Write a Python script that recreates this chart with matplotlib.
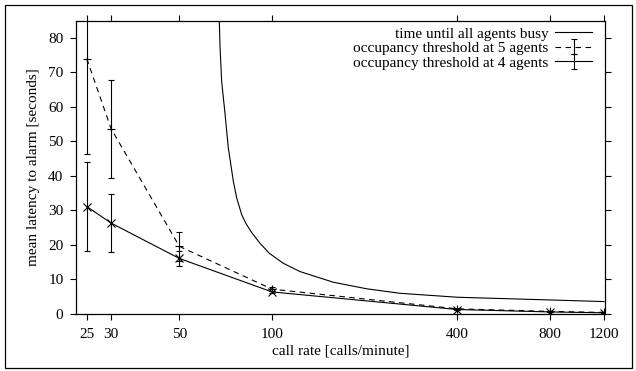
import matplotlib
matplotlib.use("Agg")
import matplotlib.pyplot as plt
from matplotlib.patches import Rectangle
import numpy as np

plt.rcParams['font.family'] = ['Liberation Serif', 'DejaVu Serif']
plt.rcParams['font.size'] = 11

# x tick values / categories
x_ticks = [25, 30, 50, 100, 400, 800, 1200]

# "time until all agents busy" curve
busy_x = [67.4, 67.8, 68.6, 70.4, 72.1, 74.9, 76.8, 79.7, 82.3, 85.9, 91.4, 98.0,
          108.8, 123.3, 158.2, 203.3, 260.7, 401.6, 801, 1200]
busy_y = [85.0, 77.2, 67.5, 57.8, 48.2, 38.4, 33.6, 28.8, 26.2, 23.6, 20.5, 17.6,
          14.7, 12.3, 9.2, 7.3, 6.0, 4.85, 4.07, 3.6]

# occupancy threshold at 5 agents
occ5_x = [25, 30, 50, 100, 400, 800, 1200]
occ5_y = [74.0, 53.7, 19.6, 7.2, 1.5, 0.75, 0.45]
occ5_err = [27.5, 14.2, 4.3, 0.6, 0.2, 0.1, 0.1]

# occupancy threshold at 4 agents
occ4_x = [25, 30, 50, 100, 400, 800, 1200]
occ4_y = [31.15, 26.35, 16.1, 6.4, 1.3, 0.6, 0.35]
occ4_err = [12.85, 8.45, 2.1, 0.4, 0.2, 0.1, 0.1]

fig = plt.figure(figsize=(6.36, 3.71), dpi=100)
ax = fig.add_axes([76/636, 1-314/371, (605.3-76)/636, (314-20.7)/371])

lw = 0.8
busy_line, = ax.plot(busy_x, busy_y, '-', color='black', lw=lw,
                     label='time until all agents busy')
eb5 = ax.errorbar(occ5_x, occ5_y, yerr=occ5_err, fmt='--', color='black', lw=lw,
                  elinewidth=lw, capsize=2.5, capthick=lw, dashes=(5, 4),
                  label='occupancy threshold at 5 agents')
ax.plot(occ5_x, occ5_y, '+', color='black', ms=6, mew=lw)
eb4 = ax.errorbar(occ4_x, occ4_y, yerr=occ4_err, fmt='-', color='black', lw=lw,
                  elinewidth=lw, capsize=2.5, capthick=lw,
                  label='occupancy threshold at 4 agents')
ax.plot(occ4_x, occ4_y, 'x', color='black', ms=5.5, mew=lw)

ax.set_xscale('log')
ax.set_xlim(23.07, 1211)
ax.set_ylim(0, 85)
ax.set_xticks(x_ticks)
ax.set_xticklabels([str(v) for v in x_ticks])
ax.xaxis.set_minor_locator(matplotlib.ticker.NullLocator())
ax.set_yticks(np.arange(0, 81, 10))

ax.tick_params(axis='both', which='major', direction='out', length=4.3, width=0.8,
               top=True, right=True, labelsize=11, colors='black')
ax.tick_params(axis='x', pad=6.0)
ax.tick_params(axis='y', pad=4.7)
for s in ax.spines.values():
    s.set_linewidth(0.9)

ax.set_xlabel('call rate [calls/minute]', fontsize=11, labelpad=2)
ax.set_ylabel('mean latency to alarm [seconds]', fontsize=11, labelpad=6)

leg = ax.legend(handles=[busy_line, eb5, eb4], loc='upper right',
                bbox_to_anchor=(0.995, 1.015), frameon=False, markerfirst=False,
                handlelength=2.4, handletextpad=0.45, labelspacing=0.05,
                borderpad=0.2, fontsize=11)

fig.patches.append(Rectangle((4.5/636, 3/371), (631.5-4.5)/636, (367.5-4.5)/371,
                             transform=fig.transFigure, fill=False,
                             edgecolor='black', lw=0.9))

fig.savefig('out.png', dpi=100)
